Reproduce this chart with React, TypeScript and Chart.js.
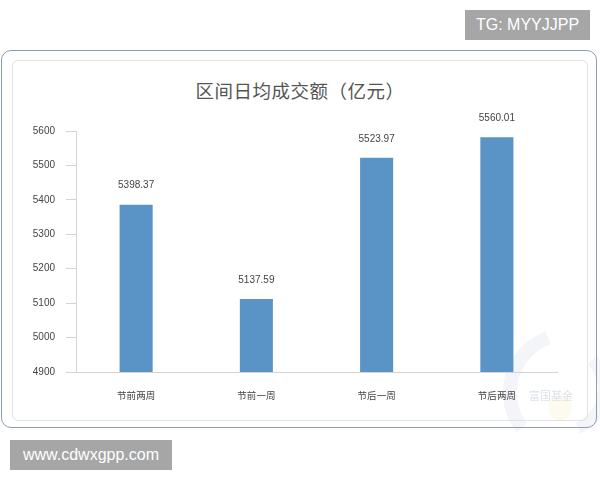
import React, { useEffect, useRef } from "react";
import { Chart, registerables } from "chart.js";

Chart.register(...registerables);

const categories = ["节前两周", "节前一周", "节后一周", "节后两周"];
const barValues = [5386, 5112, 5522, 5582];
const valueLabels = ["5398.37", "5137.59", "5523.97", "5560.01"];
const yMin = 4900;
const yMax = 5600;
const yStep = 100;
const titleText = "区间日均成交额（亿元）";

const valueLabelPlugin = {
  id: "valueLabels",
  afterDatasetsDraw(chart: any) {
    const ctx = chart.ctx;
    const meta = chart.getDatasetMeta(0);
    ctx.save();
    ctx.font = '10px "Liberation Sans", Arial, sans-serif';
    ctx.fillStyle = "#444";
    ctx.textAlign = "center";
    ctx.textBaseline = "middle";
    meta.data.forEach((el: any, i: number) => {
      ctx.fillText(valueLabels[i], el.x, el.y - 19);
    });
    ctx.restore();
  },
};

function BarChart() {
  const ref = useRef<HTMLCanvasElement | null>(null);
  useEffect(() => {
    if (!ref.current) return;
    const chart = new Chart(ref.current, {
      type: "bar",
      data: {
        labels: categories,
        datasets: [
          {
            data: barValues,
            backgroundColor: "#5a93c6",
            borderWidth: 0,
            categoryPercentage: 1,
            barPercentage: 0.275,
          },
        ],
      },
      options: {
        animation: false,
        responsive: false,
        maintainAspectRatio: false,
        devicePixelRatio: 1,
        layout: { padding: { left: 0, right: 31, top: 71, bottom: 8 } },
        plugins: {
          legend: { display: false },
          tooltip: { enabled: false },
          title: { display: false },
        },
        scales: {
          x: {
            grid: { display: false, drawTicks: false },
            border: { display: true, color: "#d4d4d4", width: 1 },
            ticks: {
              padding: 18,
              color: "#444",
              font: { family: '"Noto Sans CJK SC", sans-serif', size: 9.5 },
            },
            afterFit: (axis: any) => {
              axis.height = 40;
            },
          },
          y: {
            min: yMin,
            max: yMax,
            grid: {
              drawOnChartArea: false,
              drawTicks: true,
              tickLength: 10,
              color: "#d4d4d4",
            },
            border: { display: true, color: "#d4d4d4", width: 1 },
            ticks: {
              stepSize: yStep,
              padding: 11,
              color: "#444",
              font: { family: '"Liberation Sans", Arial, sans-serif', size: 10 },
              callback: (v: any) => String(v),
            },
            afterFit: (axis: any) => {
              axis.width = 64;
            },
          },
        },
      },
      plugins: [valueLabelPlugin],
    });
    return () => chart.destroy();
  }, []);
  return (
    <canvas
      ref={ref}
      width={576}
      height={360}
      style={{ position: "absolute", left: 12, top: 60, width: 576, height: 360 }}
    />
  );
}

export default function App() {
  return (
    <div
      style={{
        position: "fixed",
        left: 0,
        top: 0,
        width: 600,
        height: 480,
        background: "#fff",
        overflow: "hidden",
        fontFamily: '"Liberation Sans", Arial, sans-serif',
      }}
    >
      <div
        style={{
          position: "absolute",
          left: 465,
          top: 10,
          width: 125,
          height: 30,
          background: "#a6a6a6",
          color: "#fff",
          fontSize: 16,
          lineHeight: "30px",
          textAlign: "center",
        }}
      >
        TG: MYYJJPP
      </div>
      <svg
        width={600}
        height={480}
        style={{ position: "absolute", left: 0, top: 0, pointerEvents: "none" }}
      >
        <path d="M 522 428 A 58 58 0 0 1 548 338" stroke="#f3f5f8" strokeWidth={14} fill="none" />
        <path d="M 578 428 A 42 42 0 0 0 592 360" stroke="#f3f5f8" strokeWidth={12} fill="none" />
        <circle cx={560} cy={408} r={12} fill="#fdfaf0" />
      </svg>
      <div
        style={{
          position: "absolute",
          left: 1,
          top: 50,
          width: 596,
          height: 378,
          border: "1px solid #8d9db0",
          borderRadius: 10,
          boxSizing: "border-box",
        }}
      />
      <div
        style={{
          position: "absolute",
          left: 12,
          top: 60,
          width: 576,
          height: 361,
          border: "1.5px solid #e2e2e2",
          borderRadius: 6,
          boxSizing: "border-box",
        }}
      />
      <div
        style={{
          position: "absolute",
          left: 0,
          top: 78,
          width: 600,
          textAlign: "center",
          fontFamily: '"Noto Sans CJK SC", sans-serif',
          fontSize: 18.5,
          lineHeight: "24px",
          color: "#555",
          fontWeight: 400,
          letterSpacing: 0.5,
        }}
      >
        {titleText}
      </div>
      <BarChart />
      <div
        style={{
          position: "absolute",
          left: 529,
          top: 387,
          fontFamily: '"Noto Sans CJK SC", sans-serif',
          fontSize: 11,
          color: "#dde2e9",
        }}
      >
        富国基金
      </div>
      <div
        style={{
          position: "absolute",
          left: 10,
          top: 440,
          width: 162,
          height: 30,
          background: "#a6a6a6",
          color: "#fff",
          fontSize: 16,
          lineHeight: "30px",
          textAlign: "center",
        }}
      >
        www.cdwxgpp.com
      </div>
    </div>
  );
}
